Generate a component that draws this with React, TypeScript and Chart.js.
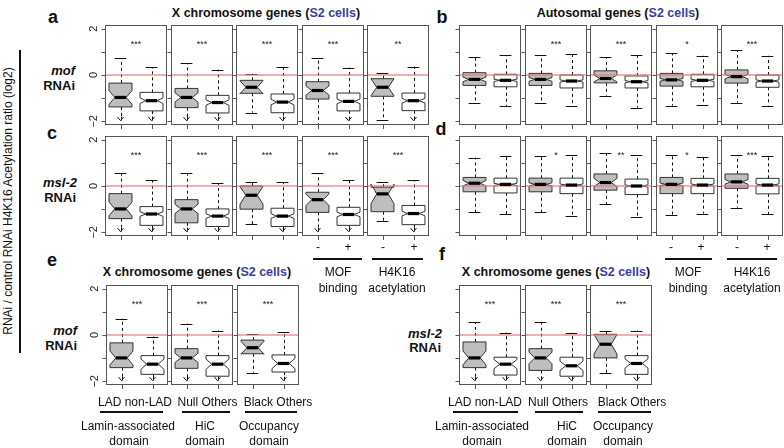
import React, { useEffect, useRef } from "react";
import { Chart, registerables } from "chart.js";

Chart.register(...registerables);

// [lowerWhisker (null = off-scale, arrow), q1, median, q3, upperWhisker, notchHalfWidth]
type Box = [number | null, number, number, number, number, number];

const FACETS = ["Lamin-associated domain", "HiC domain", "Occupancy domain", "MOF binding", "H4K16 acetylation"];
const GROUPS = [["LAD", "non-LAD"], ["Null", "Others"], ["Black", "Others"], ["-", "+"], ["-", "+"]];
const Y_TICKS = [-2, -1, 0, 1, 2];
const Y_TICK_LABELS = [-2, 0, 2];

// a: mof RNAi, X chromosome genes
const panelA: Box[][] = [
  [[null, -1.38, -0.97, -0.35, 0.72, 0.3], [null, -1.55, -1.11, -0.75, 0.35, 0.12]],
  [[null, -1.41, -0.97, -0.58, 0.5, 0.2], [null, -1.64, -1.19, -0.88, 0.23, 0.12]],
  [[-1.63, -0.79, -0.53, -0.23, 0.06, 0.28], [null, -1.63, -1.17, -0.82, 0.35, 0.12]],
  [[-2.12, -1.04, -0.67, -0.29, 0.72, 0.2], [null, -1.55, -1.14, -0.78, 0.32, 0.1]],
  [[-1.95, -0.92, -0.53, -0.16, 0.1, 0.36], [null, -1.54, -1.11, -0.78, 0.35, 0.1]],
];
const sigA = ["***", "***", "***", "***", "**"];

// b: mof RNAi, autosomal genes
const panelB: Box[][] = [
  [[-1.22, -0.45, -0.19, 0.1, 0.76, 0.1], [-1.33, -0.51, -0.23, 0.03, 0.86, 0.05]],
  [[-1.22, -0.45, -0.19, 0.07, 0.86, 0.08], [-1.36, -0.56, -0.26, 0.0, 0.91, 0.05]],
  [[-0.89, -0.34, -0.15, 0.18, 0.76, 0.15], [-1.41, -0.56, -0.29, -0.04, 0.86, 0.05]],
  [[-1.32, -0.48, -0.21, 0.07, 0.94, 0.06], [-1.29, -0.51, -0.23, 0.03, 0.83, 0.05]],
  [[-1.19, -0.35, -0.07, 0.22, 1.08, 0.1], [-1.32, -0.53, -0.26, 0.0, 0.83, 0.05]],
];
const sigB = ["", "***", "***", "*", "***"];

// c: msl-2 RNAi, X chromosome genes
const panelC: Box[][] = [
  [[null, -1.41, -0.99, -0.33, 0.55, 0.3], [null, -1.7, -1.21, -0.89, 0.25, 0.1]],
  [[null, -1.59, -0.99, -0.59, 0.55, 0.2], [null, -1.75, -1.3, -0.99, 0.12, 0.1]],
  [[-1.66, -1.0, -0.4, 0.0, 0.18, 0.38], [null, -1.75, -1.3, -0.96, 0.18, 0.1]],
  [[null, -1.14, -0.59, -0.27, 0.55, 0.25], [null, -1.7, -1.23, -0.92, 0.25, 0.1]],
  [[-1.51, -1.11, -0.34, -0.05, 0.18, 0.42], [null, -1.67, -1.19, -0.84, 0.25, 0.1]],
];
const sigC = ["***", "***", "***", "***", "***"];

// d: msl-2 RNAi, autosomal genes
const panelD: Box[][] = [
  [[-1.14, -0.25, 0.12, 0.37, 1.23, 0.12], [-1.23, -0.3, 0.07, 0.34, 1.29, 0.05]],
  [[-1.14, -0.25, 0.07, 0.34, 1.29, 0.07], [-1.29, -0.33, 0.04, 0.34, 1.33, 0.05]],
  [[-0.79, -0.18, 0.15, 0.52, 1.41, 0.18], [-1.36, -0.37, 0.0, 0.3, 1.33, 0.05]],
  [[-1.26, -0.33, 0.07, 0.37, 1.36, 0.06], [-1.19, -0.33, 0.04, 0.33, 1.26, 0.05]],
  [[-0.93, -0.1, 0.18, 0.52, 1.33, 0.1], [-1.23, -0.34, 0.04, 0.33, 1.3, 0.05]],
];
const sigD = ["", "*", "**", "*", "***"];

// e: mof RNAi, X chromosome genes by domain
const panelE: Box[][] = [
  [[null, -1.41, -0.99, -0.34, 0.71, 0.3], [null, -1.7, -1.26, -0.89, -0.07, 0.22]],
  [[null, -1.44, -0.99, -0.59, 0.49, 0.2], [null, -1.78, -1.26, -0.89, 0.19, 0.22]],
  [[-1.63, -0.81, -0.55, -0.22, 0.04, 0.28], [null, -1.6, -1.23, -0.86, 0.12, 0.22]],
];
const sigE = ["***", "***", "***"];

// f: msl-2 RNAi, X chromosome genes by domain
const panelF: Box[][] = [
  [[null, -1.41, -0.99, -0.3, 0.56, 0.3], [null, -1.73, -1.26, -0.96, 0.1, 0.2]],
  [[null, -1.53, -0.99, -0.59, 0.56, 0.25], [null, -1.78, -1.33, -0.96, 0.1, 0.2]],
  [[-1.66, -0.99, -0.4, 0.03, 0.19, 0.42], [null, -1.7, -1.23, -0.89, 0.19, 0.2]],
];
const sigF = ["***", "***", "***"];

const FONT = "'Liberation Sans', Arial, Helvetica, sans-serif";
const FILLS = ["#bebebe", "#ffffff"];
const PAD_L = 22, PAD_R = 2, PAD_T = 2, PAD_B = 8;
const FW = 62, FH = 100;

type FacetProps = { left: number; top: number; boxes: Box[]; sig: string; yLabels: boolean; name: string; groups: string[] };

function Facet({ left, top, boxes, sig, yLabels, name, groups }: FacetProps) {
  const ref = useRef<HTMLCanvasElement | null>(null);
  useEffect(() => {
    if (!ref.current) return;
    const boxPlugin = {
      id: "boxes",
      afterDatasetsDraw(chart: any) {
        const { ctx, chartArea: ca, scales } = chart;
        const xs = scales.x, ys = scales.y;
        const X = (v: number) => xs.getPixelForValue(v);
        const Y = (v: number) => ys.getPixelForValue(v);
        ctx.save();
        // ticks
        ctx.strokeStyle = "#555";
        ctx.lineWidth = 1;
        ctx.beginPath();
        Y_TICKS.forEach((t) => {
          const py = Math.round(Y(t)) + 0.5;
          ctx.moveTo(ca.left, py);
          ctx.lineTo(ca.left - 3.5, py);
        });
        [1, 2].forEach((i) => {
          const px = Math.round(X(i)) + 0.5;
          ctx.moveTo(px, ca.bottom);
          ctx.lineTo(px, ca.bottom + 4);
        });
        ctx.stroke();
        if (yLabels) {
          ctx.fillStyle = "#222";
          ctx.font = `11px ${FONT}`;
          ctx.textAlign = "center";
          ctx.textBaseline = "middle";
          Y_TICK_LABELS.forEach((t) => {
            ctx.save();
            ctx.translate(ca.left - 11, Y(t));
            ctx.rotate(-Math.PI / 2);
            ctx.fillText(t < 0 ? "\u2212" + Math.abs(t) : String(t), 0, 0);
            ctx.restore();
          });
        }
        const half = 0.37, cap = 0.19, nf = 0.5;
        boxes.forEach((b, i) => {
          const [lo, q1, med, q3, hi, n] = b;
          const cx = X(i + 1);
          const w = X(i + 1 + half) - cx;
          const cw = X(i + 1 + cap) - cx;
          // whiskers
          ctx.strokeStyle = "#111";
          ctx.lineWidth = 1;
          ctx.setLineDash([3, 3]);
          ctx.beginPath();
          ctx.moveTo(Math.round(cx) + 0.5, Y(q3));
          ctx.lineTo(Math.round(cx) + 0.5, Y(hi));
          ctx.moveTo(Math.round(cx) + 0.5, Y(q1));
          ctx.lineTo(Math.round(cx) + 0.5, Y(lo === null ? -1.95 : lo));
          ctx.stroke();
          ctx.setLineDash([]);
          ctx.beginPath();
          ctx.moveTo(cx - cw, Math.round(Y(hi)) + 0.5);
          ctx.lineTo(cx + cw, Math.round(Y(hi)) + 0.5);
          if (lo === null) {
            const tip = Y(-1.97);
            ctx.moveTo(cx - 3, tip - 3.5);
            ctx.lineTo(cx, tip);
            ctx.lineTo(cx + 3, tip - 3.5);
            ctx.moveTo(Math.round(cx) + 0.5, tip - 4);
            ctx.lineTo(Math.round(cx) + 0.5, tip);
          } else {
            ctx.moveTo(cx - cw, Math.round(Y(lo)) + 0.5);
            ctx.lineTo(cx + cw, Math.round(Y(lo)) + 0.5);
          }
          ctx.stroke();
          // notched box
          ctx.beginPath();
          ctx.moveTo(cx - w, Y(q1));
          ctx.lineTo(cx + w, Y(q1));
          ctx.lineTo(cx + w, Y(med - n));
          ctx.lineTo(cx + w * nf, Y(med));
          ctx.lineTo(cx + w, Y(med + n));
          ctx.lineTo(cx + w, Y(q3));
          ctx.lineTo(cx - w, Y(q3));
          ctx.lineTo(cx - w, Y(med + n));
          ctx.lineTo(cx - w * nf, Y(med));
          ctx.lineTo(cx - w, Y(med - n));
          ctx.closePath();
          ctx.fillStyle = FILLS[i];
          ctx.fill();
          ctx.strokeStyle = "#333";
          ctx.lineWidth = 1;
          ctx.stroke();
        });
        // zero reference line
        ctx.strokeStyle = "rgba(232,120,120,0.8)";
        ctx.lineWidth = 1.5;
        ctx.beginPath();
        ctx.moveTo(ca.left, Y(0));
        ctx.lineTo(ca.right, Y(0));
        ctx.stroke();
        // medians
        boxes.forEach((b, i) => {
          const cx = X(i + 1);
          const w = X(i + 1 + half) - cx;
          ctx.strokeStyle = "#000";
          ctx.lineWidth = 3.2;
          ctx.beginPath();
          ctx.moveTo(cx - w * nf, Y(b[2]));
          ctx.lineTo(cx + w * nf, Y(b[2]));
          ctx.stroke();
        });
        // significance
        if (sig) {
          ctx.fillStyle = "#222";
          ctx.font = `9px ${FONT}`;
          ctx.textAlign = "center";
          ctx.textBaseline = "middle";
          ctx.fillText(sig, X(1.5), Y(1.3));
        }
        // frame
        ctx.strokeStyle = "#555";
        ctx.lineWidth = 1;
        ctx.strokeRect(Math.round(ca.left) + 0.5, Math.round(ca.top) + 0.5, Math.round(ca.right - ca.left) - 1, Math.round(ca.bottom - ca.top) - 1);
        ctx.restore();
      },
    };
    const chart = new Chart(ref.current, {
      type: "scatter",
      data: {
        labels: groups,
        datasets: [
          {
            label: name,
            data: boxes.map((b, i) => ({ x: i + 1, y: b[2] })),
            pointRadius: 0,
            showLine: false,
          },
        ],
      },
      options: {
        animation: false,
        responsive: false,
        events: [],
        layout: { padding: { left: PAD_L, right: PAD_R, top: PAD_T, bottom: PAD_B } },
        scales: {
          x: { type: "linear", min: 0.5, max: 2.5, display: false },
          y: { type: "linear", min: -2.16, max: 2.16, display: false },
        },
        plugins: { legend: { display: false }, tooltip: { enabled: false } },
      },
      plugins: [boxPlugin],
    } as any);
    return () => chart.destroy();
  }, [boxes, sig, yLabels, name, groups]);
  const W = FW + PAD_L + PAD_R, H = FH + PAD_T + PAD_B;
  return (
    <canvas
      ref={ref}
      width={W}
      height={H}
      style={{ position: "absolute", left: left - PAD_L, top: top - PAD_T, width: W, height: H }}
    />
  );
}

function T({ x, y, children, size = 12, bold = false, italic = false, align = "center", color = "#111" }: any) {
  const tx = align === "center" ? "-50%" : align === "right" ? "-100%" : "0";
  return (
    <div
      style={{
        position: "absolute",
        left: x,
        top: y,
        transform: `translate(${tx}, -50%)`,
        whiteSpace: "pre",
        fontFamily: FONT,
        fontSize: size,
        fontWeight: bold ? "bold" : "normal",
        fontStyle: italic ? "italic" : "normal",
        lineHeight: 1,
        color,
      }}
    >
      {children}
    </div>
  );
}

function Title({ x, y, text }: { x: number; y: number; text: string }) {
  return (
    <T x={x} y={y} size={12.5} bold>
      {text} (<span style={{ color: "#3d3d9e" }}>S2 cells</span>)
    </T>
  );
}

function HLine({ x1, x2, y }: { x1: number; x2: number; y: number }) {
  return <div style={{ position: "absolute", left: x1, top: y - 1, width: x2 - x1, height: 2, background: "#111" }} />;
}

const ROW_A_X = [105, 170.5, 236, 301.5, 367];
const ROW_B_X = [459, 524.5, 590, 655.5, 721];

export default function App() {
  return (
    <div style={{ position: "fixed", left: 0, top: 0, width: 784, height: 448, background: "#fff", overflow: "hidden" }}>
      {/* y axis title */}
      <div
        style={{
          position: "absolute",
          left: 8,
          top: 201,
          transform: "translate(-50%, -50%) rotate(-90deg)",
          whiteSpace: "nowrap",
          fontFamily: FONT,
          fontSize: 12,
          lineHeight: 1,
          color: "#111",
        }}
      >
        RNAi / control RNAi H4K16 Acetylation ratio (log2)
      </div>
      <div style={{ position: "absolute", left: 19, top: 50, width: 1.5, height: 303, background: "#111" }} />

      <Title x={266} y={13} text="X chromosome genes" />
      <Title x={618} y={13} text="Autosomal genes" />
      <Title x={197} y={272} text="X chromosome genes" />
      <Title x={556} y={272} text="X chromosome genes" />

      <T x={53} y={17} size={18} bold>a</T>
      <T x={442} y={17} size={18} bold>b</T>
      <T x={52} y={133} size={18} bold>c</T>
      <T x={441} y={129} size={18} bold>d</T>
      <T x={52} y={260} size={18} bold>e</T>
      <T x={442} y={254} size={18} bold>f</T>

      <T x={75} y={70} size={13} bold italic align="right">mof</T>
      <T x={75} y={85} size={13} bold align="right">RNAi</T>
      <T x={77} y={182} size={13} bold italic align="right">msl-2</T>
      <T x={76} y={197} size={13} bold align="right">RNAi</T>
      <T x={77} y={330} size={13} bold italic align="right">mof</T>
      <T x={77} y={345} size={13} bold align="right">RNAi</T>
      <T x={442} y={333} size={13} bold italic align="right">msl-2</T>
      <T x={441} y={347} size={13} bold align="right">RNAi</T>

      {panelA.map((b, i) => (
        <Facet key={"a" + i} name={"a " + FACETS[i]} groups={GROUPS[i]} left={ROW_A_X[i]} top={24.5} boxes={b} sig={sigA[i]} yLabels={i === 0} />
      ))}
      {panelB.map((b, i) => (
        <Facet key={"b" + i} name={"b " + FACETS[i]} groups={GROUPS[i]} left={ROW_B_X[i]} top={24.5} boxes={b} sig={sigB[i]} yLabels={false} />
      ))}
      {panelC.map((b, i) => (
        <Facet key={"c" + i} name={"c " + FACETS[i]} groups={GROUPS[i]} left={ROW_A_X[i]} top={136} boxes={b} sig={sigC[i]} yLabels={i === 0} />
      ))}
      {panelD.map((b, i) => (
        <Facet key={"d" + i} name={"d " + FACETS[i]} groups={GROUPS[i]} left={ROW_B_X[i]} top={136} boxes={b} sig={sigD[i]} yLabels={false} />
      ))}
      {panelE.map((b, i) => (
        <Facet key={"e" + i} name={"e " + FACETS[i]} groups={GROUPS[i]} left={ROW_A_X[i] + 0.5} top={285} boxes={b} sig={sigE[i]} yLabels={i === 0} />
      ))}
      {panelF.map((b, i) => (
        <Facet key={"f" + i} name={"f " + FACETS[i]} groups={GROUPS[i]} left={ROW_B_X[i]} top={285} boxes={b} sig={sigF[i]} yLabels={false} />
      ))}

      {/* MOF binding / H4K16 acetylation annotations under c and d */}
      <T x={318} y={247}>{GROUPS[3][0]}</T>
      <T x={348} y={247}>{GROUPS[3][1]}</T>
      <T x={383} y={247}>{GROUPS[4][0]}</T>
      <T x={414} y={247}>{GROUPS[4][1]}</T>
      <HLine x1={313} x2={362} y={259} />
      <HLine x1={372} x2={423} y={259} />
      <T x={338} y={272}>MOF</T>
      <T x={338} y={288}>binding</T>
      <T x={397} y={272}>H4K16</T>
      <T x={397} y={288}>acetylation</T>

      <T x={671} y={247}>{GROUPS[3][0]}</T>
      <T x={701} y={247}>{GROUPS[3][1]}</T>
      <T x={737} y={247}>{GROUPS[4][0]}</T>
      <T x={767} y={247}>{GROUPS[4][1]}</T>
      <HLine x1={665} x2={712} y={259} />
      <HLine x1={727} x2={777} y={259} />
      <T x={688} y={272}>MOF</T>
      <T x={688} y={288}>binding</T>
      <T x={752} y={272}>H4K16</T>
      <T x={752} y={288}>acetylation</T>

      {/* domain annotations under e */}
      <T x={135} y={402}>{GROUPS[0].join(" ")}</T>
      <T x={207.5} y={402}>{GROUPS[1].join(" ")}</T>
      <T x={278} y={402}>{GROUPS[2].join(" ")}</T>
      <HLine x1={100} x2={163} y={412} />
      <HLine x1={182} x2={230} y={412} />
      <HLine x1={245} x2={297} y={412} />
      <T x={128} y={426}>Lamin-associated</T>
      <T x={129} y={441}>domain</T>
      <T x={205} y={426}>HiC</T>
      <T x={205} y={441}>domain</T>
      <T x={269} y={426}>Occupancy</T>
      <T x={269} y={441}>domain</T>

      {/* domain annotations under f */}
      <T x={485} y={402}>{GROUPS[0].join(" ")}</T>
      <T x={558} y={402}>{GROUPS[1].join(" ")}</T>
      <T x={632} y={402}>{GROUPS[2].join(" ")}</T>
      <HLine x1={453} x2={518} y={412} />
      <HLine x1={535} x2={583} y={412} />
      <HLine x1={598} x2={651} y={412} />
      <T x={482} y={426}>Lamin-associated</T>
      <T x={482} y={441}>domain</T>
      <T x={567} y={426}>HiC</T>
      <T x={567} y={441}>domain</T>
      <T x={623} y={426}>Occupancy</T>
      <T x={623} y={441}>domain</T>
    </div>
  );
}
